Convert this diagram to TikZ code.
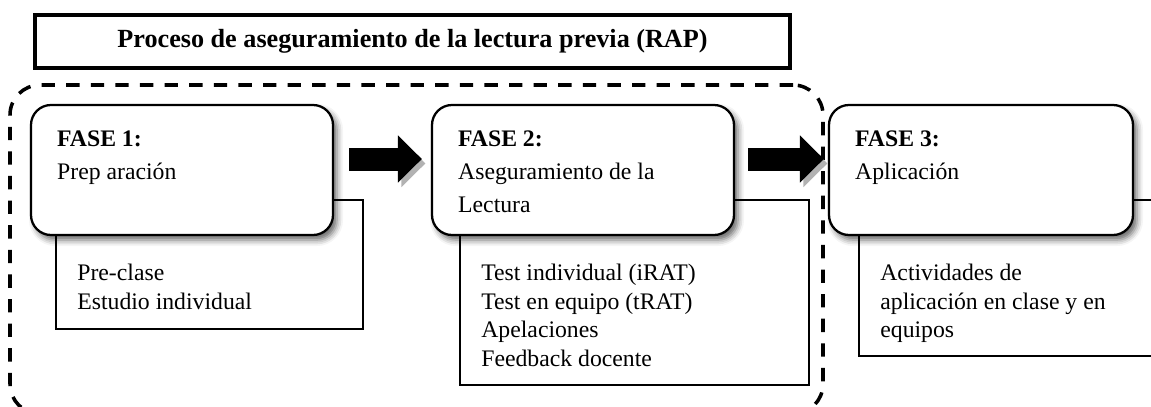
\documentclass[tikz,border=0pt]{standalone}
\usepackage{fontspec}
\setmainfont{Liberation Serif}
\usetikzlibrary{positioning, fit, arrows.meta, shadows.blur}

\tikzstyle{title} = [rectangle, draw=black, line width=1.8pt, minimum width=15.1cm, minimum height=1.06cm, text centered, font=\fontsize{14.9}{17}\selectfont\bfseries]
\tikzstyle{group} = [rectangle, rounded corners=0.6cm, draw=black, line width=2pt, dash pattern=on 7.6pt off 6.4pt, inner sep=0pt]
\tikzstyle{phase} = [rectangle, rounded corners=0.4cm, draw=black, line width=1.3pt, fill=white, minimum width=6.04cm, minimum height=2.6cm, blur shadow={shadow xshift=0.08cm, shadow yshift=-0.1cm, shadow blur radius=0.12cm, shadow opacity=60}]
\tikzstyle{detail} = [rectangle, draw=black, line width=0.9pt, anchor=north west]
\tikzstyle{phasetext} = [anchor=north west, inner sep=0pt, align=left, font=\fontsize{13.5}{18.8}\selectfont]
\tikzstyle{itemtext} = [anchor=north west, inner sep=0pt, align=left, font=\fontsize{13.5}{16.2}\selectfont]
\tikzstyle{blockarrow} = [line width=0.46cm, -{Triangle[length=0.48cm, width=0.92cm]}, preaction={draw=black!30, transform canvas={shift={(0.07,-0.09)}}}]

\begin{document}
\begin{tikzpicture}

\useasboundingbox (0,0) rectangle (23.02,-8.14);
\clip (0,0) rectangle (23.02,-8.14);

\node (title) [title] at (8.25,-0.83) {Proceso de aseguramiento de la lectura previa (RAP)};

\coordinate (grpnw) at (0.20,-1.70);
\coordinate (grpse) at (16.46,-8.28);
\node (rap) [group, fit=(grpnw) (grpse)] {};

\node (det1) [detail, minimum width=6.14cm, minimum height=2.58cm] at (1.10,-3.98) {};
\node (det2) [detail, minimum width=6.98cm, minimum height=3.70cm] at (9.18,-3.98) {};
\node (det3) [detail, minimum width=6.40cm, minimum height=3.12cm] at (17.16,-3.98) {};

\node (phase1) [phase] at (3.64,-3.40) {};
\node (phase2) [phase] at (11.66,-3.40) {};
\node (phase3) [phase, minimum width=6.08cm] at (19.62,-3.40) {};

\node (name1) [phasetext] at ([shift={(0.54,-0.54)}]phase1.north west) {\textbf{FASE 1:}\\Prep aración};
\node (name2) [phasetext] at ([shift={(0.54,-0.54)}]phase2.north west) {\textbf{FASE 2:}\\Aseguramiento de la\\Lectura};
\node (name3) [phasetext] at ([shift={(0.54,-0.54)}]phase3.north west) {\textbf{FASE 3:}\\Aplicación};

\node (list1) [itemtext] at ([shift={(0.44,-1.30)}]det1.north west) {Pre-clase\\Estudio individual};
\node (list2) [itemtext] at ([shift={(0.44,-1.30)}]det2.north west) {Test individual (iRAT)\\Test en equipo (tRAT)\\Apelaciones\\Feedback docente};
\node (list3) [itemtext] at ([shift={(0.44,-1.30)}]det3.north west) {Actividades de\\aplicación en clase y en\\equipos};

\draw[blockarrow] ([shift={(0.30,0.22)}]phase1.east) -- ([shift={(-0.18,0.22)}]phase2.west);
\draw[blockarrow] ([shift={(0.26,0.22)}]phase2.east) -- ([shift={(-0.08,0.22)}]phase3.west);

\end{tikzpicture}
\end{document}
